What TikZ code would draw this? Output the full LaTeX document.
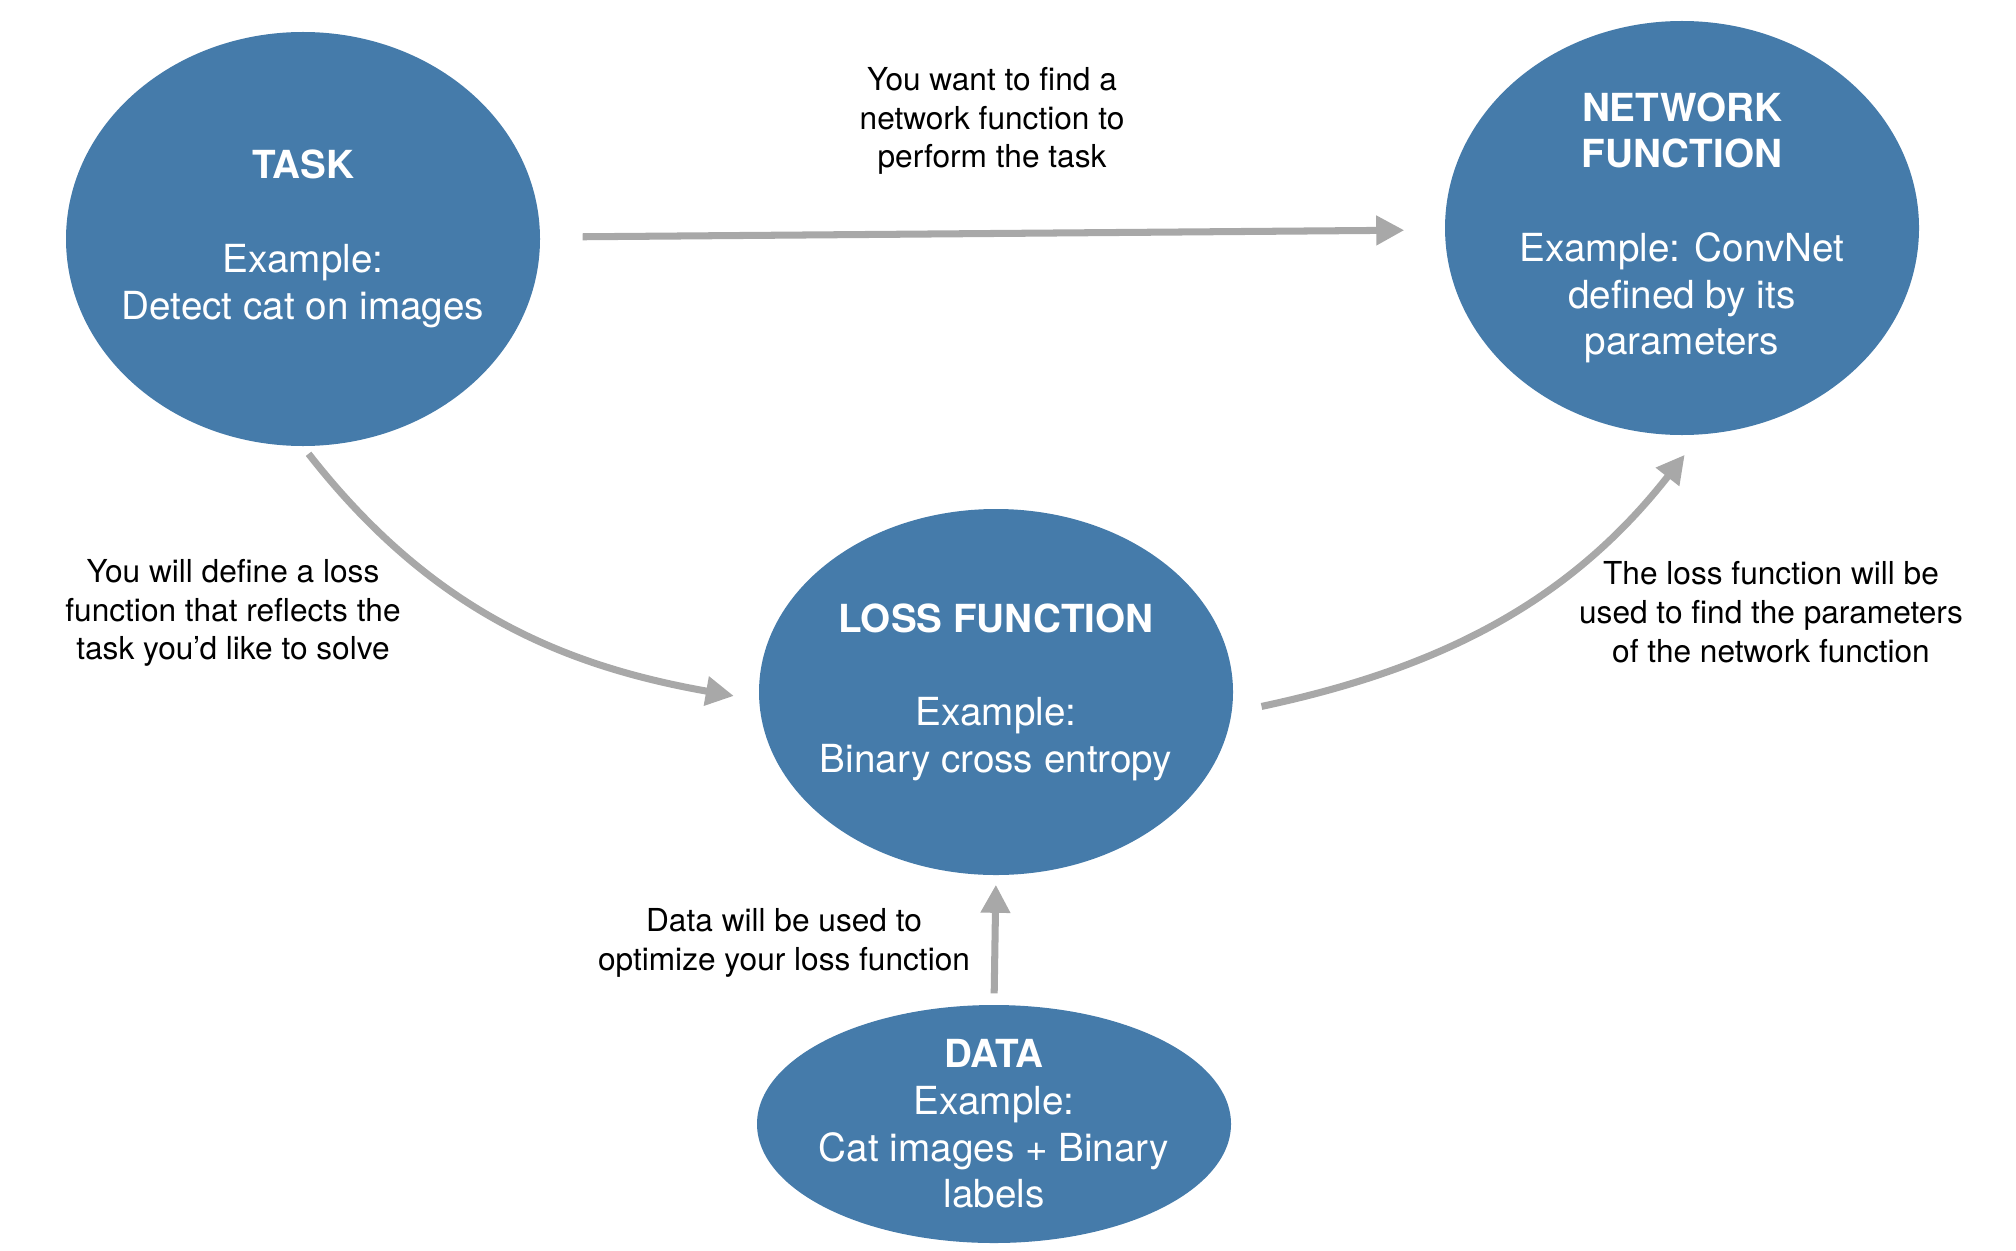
\documentclass[tikz,border=0pt]{standalone}
\usepackage{fontspec}
\setmainfont{TeX Gyre Heros}
\usepackage{tikz}
\usetikzlibrary{arrows.meta,shapes.geometric,positioning}
\definecolor{blobblue}{HTML}{457BAA}
\definecolor{arrgray}{HTML}{A8A8A8}

\begin{document}
\begin{tikzpicture}[
 blob/.style={ellipse,fill=blobblue,inner sep=0pt,minimum width=4.74cm},
 inner/.style={text=white,align=center,font=\fontsize{11}{13.3}\selectfont},
 note/.style={align=center,font=\fontsize{9}{11}\selectfont},
 arr/.style={draw=arrgray,line width=2pt,-{Triangle[length=8pt,width=8pt]}}]
\useasboundingbox (0,0) rectangle (20.16,-12.5);
\node[blob,minimum height=4.14cm,label={[inner]center:{\textbf{TASK}\\[13.3pt]Example:\\Detect cat on images}}] (T) at (3.03,-2.39) {};
\node[blob,minimum height=4.14cm,label={[inner]center:{\textbf{NETWORK}\\\textbf{FUNCTION}\\[13.3pt]Example: ConvNet\\defined by its\\parameters}}] (N) at (16.82,-2.28) {};
\node[blob,minimum height=3.66cm,label={[inner]center:{\textbf{LOSS FUNCTION}\\[13.3pt]Example:\\Binary cross entropy}}] (L) at (9.96,-6.92) {};
\node[blob,minimum height=2.38cm,label={[inner]center:{\textbf{DATA}\\Example:\\Cat images + Binary\\labels}}] (D) at (9.94,-11.24) {};
\node[note] (qN) at (9.92,-1.21) {You want to find a\\network function to\\perform the task};
\node[note] (qT) at (2.33,-6.13) {You will define a loss\\function that reflects the\\task you’d like to solve};
\node[note] (qL) at (17.71,-6.12) {The loss function will be\\used to find the parameters\\of the network function};
\node[note] (qD) at (7.84,-9.43) {Data will be used to\\optimize your loss function};
\draw[arr,shorten <=0.42cm,shorten >=0.4cm] (T) -- (N);
\draw[arr,shorten <=0.09cm,shorten >=0.25cm] (T.south) to[out=-52,in=170] (L.182);
\draw[arr,shorten <=0.3cm,shorten >=0.25cm] (L.-5) to[out=12,in=-128] (N.-85);
\draw[arr,shorten <=0.11cm,shorten >=0.09cm] (D.north) -- (L.south);
\end{tikzpicture}
\end{document}
